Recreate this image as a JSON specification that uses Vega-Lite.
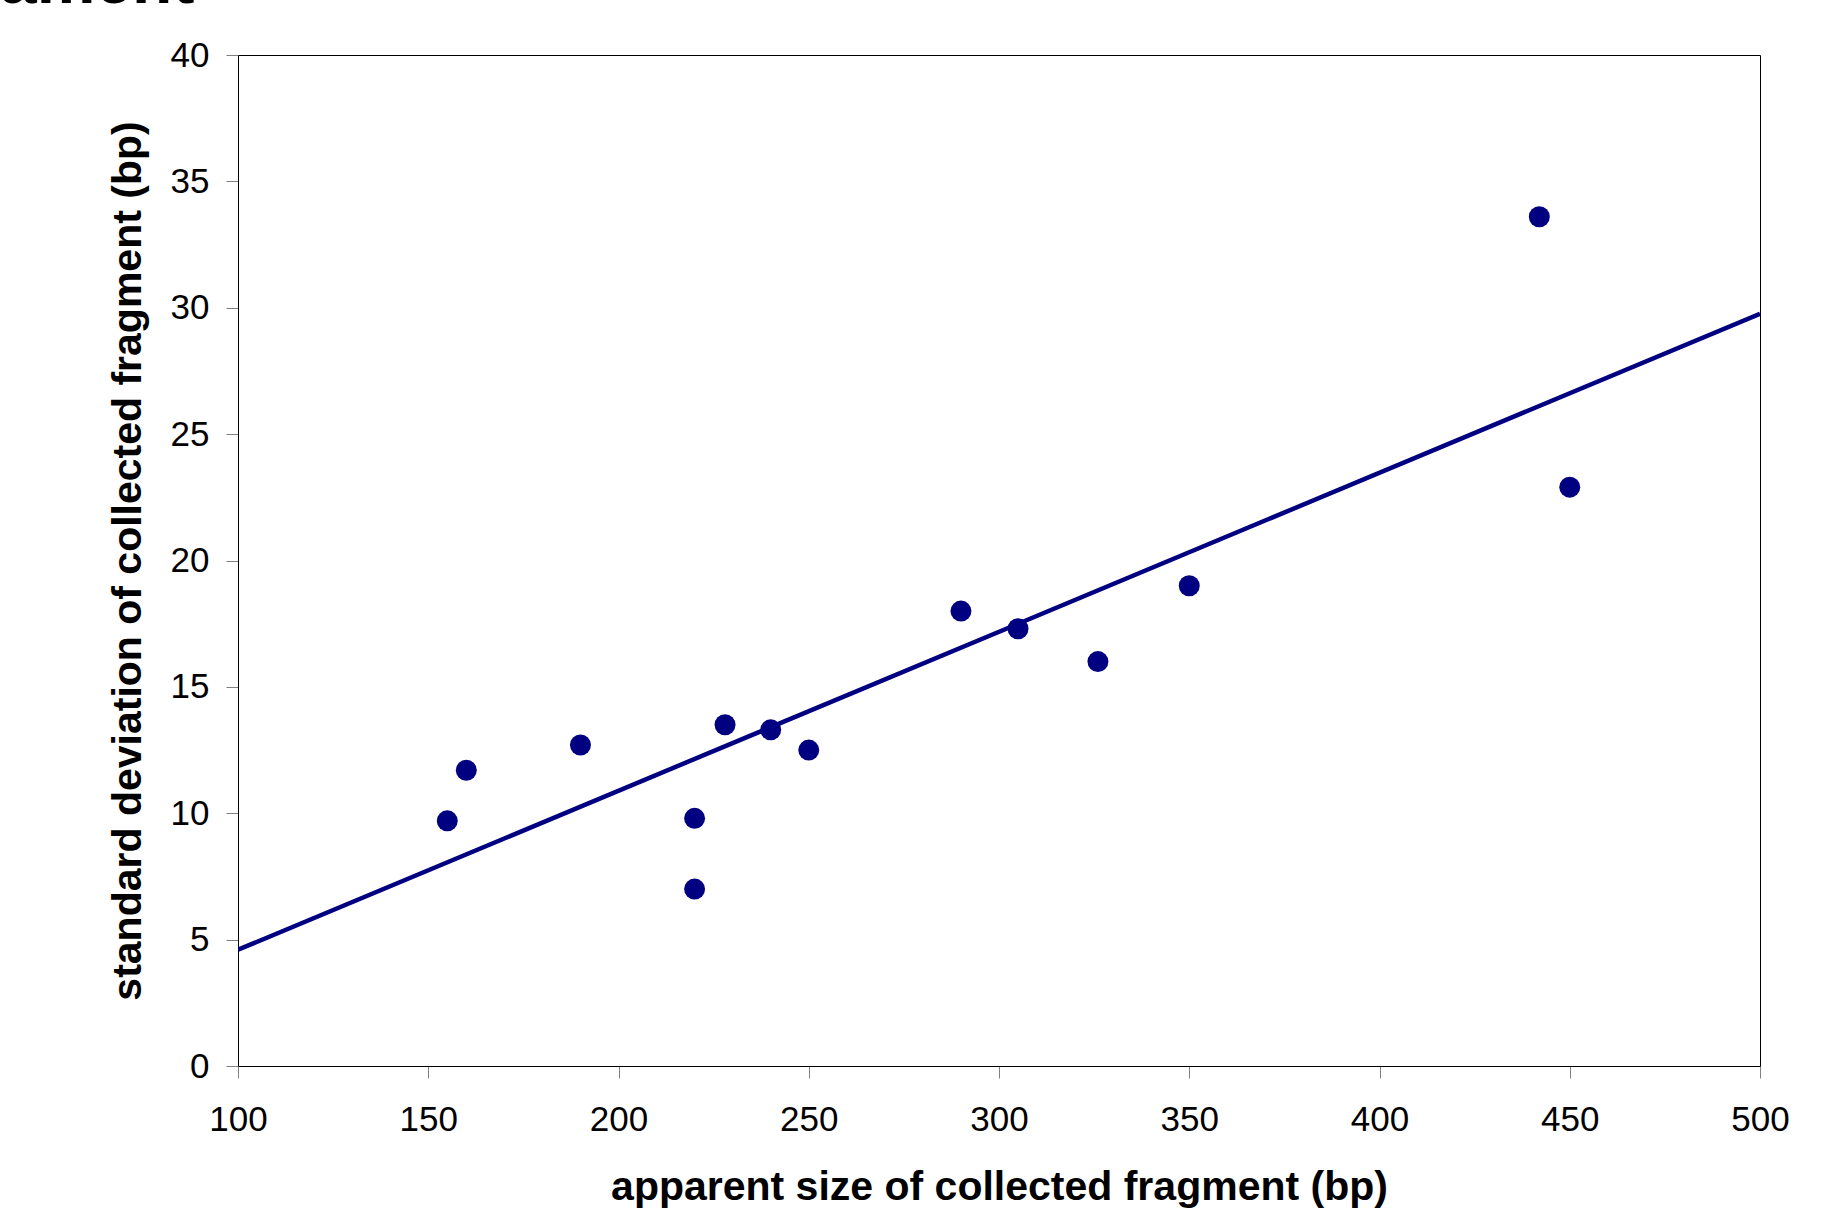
{
  "$schema": "https://vega.github.io/schema/vega-lite/v6.json",
  "autosize": "none",
  "width": 1522,
  "height": 1011,
  "padding": {"left": 238, "top": 55, "right": 75, "bottom": 142},
  "background": "white",
  "title": {
    "text": "ament",
    "anchor": "start",
    "frame": "group",
    "font": "Liberation Sans",
    "fontSize": 66,
    "fontWeight": "bold",
    "color": "black",
    "baseline": "alphabetic",
    "dx": -238,
    "dy": 36,
    "offset": 5
  },
  "config": {
    "view": {"stroke": "black", "strokeWidth": 1},
    "axis": {
      "grid": false,
      "domainColor": "black",
      "domainWidth": 1,
      "tickColor": "#808080",
      "tickSize": 12,
      "tickWidth": 1,
      "labelFont": "Liberation Sans",
      "labelFontSize": 35,
      "labelColor": "black",
      "titleFont": "Liberation Sans",
      "titleFontSize": 41,
      "titleFontWeight": "bold",
      "titleColor": "black"
    }
  },
  "data": {
    "values": [
      {"size": 155, "sd": 9.7},
      {"size": 160, "sd": 11.7},
      {"size": 190, "sd": 12.7},
      {"size": 220, "sd": 9.8},
      {"size": 220, "sd": 7.0},
      {"size": 228, "sd": 13.5},
      {"size": 240, "sd": 13.3},
      {"size": 250, "sd": 12.5},
      {"size": 290, "sd": 18.0},
      {"size": 305, "sd": 17.3},
      {"size": 326, "sd": 16.0},
      {"size": 350, "sd": 19.0},
      {"size": 442, "sd": 33.6},
      {"size": 450, "sd": 22.9}
    ]
  },
  "encoding": {
    "x": {
      "field": "size",
      "type": "quantitative",
      "scale": {"domain": [100, 500], "nice": false, "zero": false},
      "axis": {
        "title": "apparent size of collected fragment (bp)",
        "values": [100, 150, 200, 250, 300, 350, 400, 450, 500],
        "labelPadding": 24,
        "titlePadding": 30,
        "labelFlush": false
      }
    },
    "y": {
      "field": "sd",
      "type": "quantitative",
      "scale": {"domain": [0, 40], "nice": false},
      "axis": {
        "title": "standard deviation of collected fragment (bp)",
        "values": [0, 5, 10, 15, 20, 25, 30, 35, 40],
        "labelPadding": 17,
        "titlePadding": 21,
        "labelFlush": false
      }
    }
  },
  "layer": [
    {
      "transform": [{"regression": "sd", "on": "size", "extent": [100, 500]}],
      "mark": {"type": "line", "color": "#000080", "strokeWidth": 4.5, "clip": true}
    },
    {
      "mark": {"type": "circle", "color": "#000080", "opacity": 1, "size": 440}
    }
  ]
}
